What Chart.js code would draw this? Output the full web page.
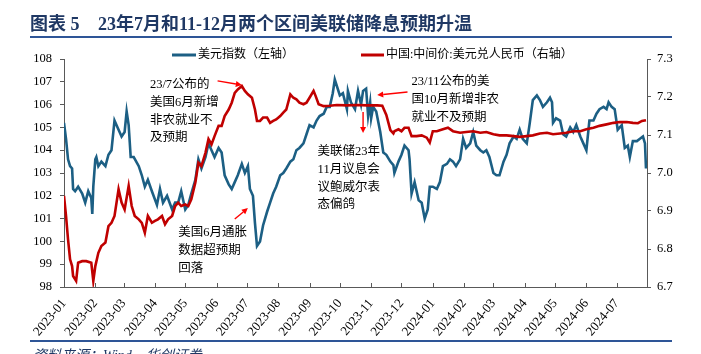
<!DOCTYPE html>
<html>
<head>
	<meta charset="UTF-8">
	<title>美元指数与人民币中间价</title>
	<script src="https://cdn.jsdelivr.net/npm/chart.js@4.4.1/dist/chart.umd.min.js"></script>
	<style>
		body { margin:0; padding:0; overflow:hidden; background:#fff; }
		canvas { display:block; }
	</style>
</head>
<body>
	<canvas id="chart" width="701" height="354"></canvas>
	<script>
		// x tick labels (month starts)
		const xLabels = ['2023-01','2023-02','2023-03','2023-04','2023-05','2023-06','2023-07','2023-08','2023-09','2023-10',
			'2023-11','2023-12','2024-01','2024-02','2024-03','2024-04','2024-05','2024-06','2024-07'];

		// 美元指数, days since 2023-01-01
		const dxyDays = [0,2,4,6,8,9,11,14,18,21,24,27,28,29,31,32,34,37,41,44,47,50,54,57,60,62,64,66,69,74,77,80,83,87,92,95,98,102,
			107,110,113,116,120,123,126,130,133,136,140,143,146,149,153,156,159,163,166,169,172,176,179,182,184,187,189,191,194,197,
			201,204,207,210,214,217,220,224,227,230,233,237,240,243,247,250,253,257,260,263,266,268,273,276,280,281,284,288,291,294,
			296,299,301,303,304,306,309,313,316,319,323,326,327,331,334,337,341,342,344,347,351,354,357,360,362,365,369,372,375,379,
			382,385,388,392,395,398,402,405,408,412,415,418,421,425,428,431,435,438,441,445,448,451,454,458,461,464,468,471,474,478,
			481,483,484,487,491,494,497,501,504,507,511,514,517,520,524,527,530,534,537,539,542,545,548,552,555,558,560,563,567,570,
			573,575,576];
		const dxyVals = [105.2,104.5,103.6,103.3,103.2,102.3,102.2,102.4,102.1,101.7,102.2,101.9,101.2,102.4,103.6,103.7,103.3,103.5,
			103.3,103.8,104.0,105.3,104.9,104.6,104.8,105.7,105.1,103.7,103.7,103.3,102.9,102.4,102.7,102.2,101.6,102.3,101.7,102.0,
			101.4,101.7,101.7,102.2,101.4,101.6,102.1,102.7,103.6,103.2,103.7,104.3,104.0,103.7,104.1,103.9,102.9,102.5,102.3,102.6,
			102.9,103.4,103.0,103.3,102.3,102.0,100.8,99.8,100.0,100.7,101.3,101.7,102.1,102.4,102.9,103.0,103.2,103.5,103.6,104.0,
			104.1,104.3,104.7,105.1,105.0,105.3,105.5,105.6,105.9,105.9,106.5,107.1,106.4,106.5,105.8,106.6,106.1,105.8,106.6,106.0,
			106.6,106.7,105.5,106.1,105.4,105.9,105.7,104.8,103.9,103.8,103.5,103.35,103.0,103.5,103.8,104.2,104.0,103.6,102.1,102.6,
			101.8,101.7,101.0,101.4,102.4,102.4,102.3,102.6,103.3,103.4,103.6,103.5,103.3,103.6,104.5,104.1,104.3,104.8,104.2,104.0,
			103.9,104.0,103.7,103.0,102.9,102.9,103.5,103.8,104.3,104.6,104.5,104.9,104.5,104.3,105.2,106.2,106.4,106.2,105.9,106.1,
			106.3,106.1,105.2,105.4,105.3,104.7,104.6,105.0,104.8,105.1,104.6,104.3,104.0,105.3,105.3,105.6,105.8,105.9,105.8,106.1,
			105.9,105.8,104.9,105.1,104.1,104.2,103.7,104.4,104.4,104.5,104.6,104.3,103.2];

		// 中国:中间价:美元兑人民币, days since 2023-01-01
		const cnyDays = [0,2,4,6,8,9,12,14,18,22,27,29,31,34,37,41,44,47,50,54,57,60,64,67,70,74,77,80,83,87,90,93,97,100,103,107,
			110,113,116,120,123,126,130,133,136,140,143,146,149,153,156,159,163,166,169,172,176,179,182,186,189,191,194,197,201,204,
			207,210,214,217,220,224,227,230,233,237,240,243,247,249,252,257,263,270,280,290,300,310,315,319,323,326,327,331,334,337,
			341,344,349,354,359,362,365,369,375,380,385,392,398,405,412,418,425,431,438,445,451,458,464,471,478,484,491,497,504,511,
			517,524,530,537,544,550,557,563,568,572,576];
		const cnyVals = [6.94,6.887,6.825,6.773,6.755,6.729,6.716,6.764,6.768,6.768,6.764,6.716,6.755,6.79,6.808,6.817,6.86,6.869,
			6.887,6.957,6.922,6.904,6.966,6.913,6.887,6.878,6.869,6.843,6.887,6.869,6.874,6.878,6.887,6.865,6.878,6.887,6.913,6.922,
			6.913,6.917,6.913,6.931,6.975,7.027,7.018,7.053,7.089,7.075,7.097,7.124,7.124,7.15,7.167,7.185,7.211,7.22,7.229,7.216,
			7.207,7.198,7.167,7.137,7.137,7.146,7.146,7.132,7.137,7.141,7.15,7.159,7.167,7.207,7.198,7.194,7.185,7.181,7.185,7.198,
			7.216,7.203,7.181,7.176,7.177,7.179,7.178,7.179,7.178,7.178,7.177,7.153,7.113,7.104,7.11,7.115,7.11,7.119,7.119,7.097,
			7.097,7.099,7.093,7.08,7.11,7.11,7.115,7.119,7.11,7.106,7.108,7.11,7.106,7.108,7.102,7.099,7.099,7.097,7.095,7.097,7.099,
			7.104,7.106,7.102,7.104,7.106,7.11,7.11,7.115,7.119,7.124,7.128,7.132,7.134,7.134,7.132,7.131,7.137,7.139];

		const BLUE = '#1c5f84';
		const RED = '#c00000';
		const serif = '"Liberation Serif", "Noto Sans CJK SC", serif';

		const monthDays = xLabels.map(s => {
			const [y, m] = s.split('-').map(Number);
			return (Date.UTC(y, m - 1, 1) - Date.UTC(2023, 0, 1)) / 86400000;
		});

		// annotations: text top-left and arrow in data units (day, left-axis value)
		const notes = [
			{ lines: ['23/7公布的', '美国6月新增', '非农就业不', '及预期'], at: [85, 106.86], arrow: [[152, 107.04], [176, 106.86]] },
			{ lines: ['美国6月通胀', '数据超预期', '回落'], at: [113, 100.37], arrow: [[169, 100.98], [182, 101.46]] },
			{ lines: ['美联储23年', '11月议息会', '议鲍威尔表', '态偏鸽'], at: [251, 103.92], arrow: [[296, 105.68], [296, 104.75]] },
			{ lines: ['23/11公布的美', '国10月新增非农', '就业不及预期'], at: [344, 106.99], arrow: [[340, 106.55], [310, 106.42]] }
		];

		function arrow(ctx, x1, y1, x2, y2) {
			const a = Math.atan2(y2 - y1, x2 - x1);
			const L = 6, W = 3;
			ctx.beginPath();
			ctx.moveTo(x1, y1);
			ctx.lineTo(x2 - L * Math.cos(a), y2 - L * Math.sin(a));
			ctx.stroke();
			ctx.beginPath();
			ctx.moveTo(x2, y2);
			ctx.lineTo(x2 - L * Math.cos(a) + W * Math.sin(a), y2 - L * Math.sin(a) - W * Math.cos(a));
			ctx.lineTo(x2 - L * Math.cos(a) - W * Math.sin(a), y2 - L * Math.sin(a) + W * Math.cos(a));
			ctx.closePath();
			ctx.fill();
		}

		const decor = {
			id: 'decor',
			beforeDraw(chart) {
				const ctx = chart.ctx;
				ctx.save();
				ctx.fillStyle = '#fff';
				ctx.fillRect(0, 0, chart.width, chart.height);
				ctx.restore();
			},
			afterDraw(chart) {
				const ctx = chart.ctx;
				const xs = chart.scales.x, ys = chart.scales.y;
				const area = chart.chartArea;
				ctx.save();

				// title
				ctx.fillStyle = '#1f3864';
				ctx.font = 'bold 18px ' + serif;
				ctx.textBaseline = 'middle';
				ctx.fillText('图表 5', 30, 25);
				ctx.fillText('23年7月和11-12月两个区间美联储降息预期升温', 98, 25);

				// rules
				ctx.strokeStyle = '#2e5597';
				ctx.lineWidth = 2;
				ctx.beginPath();
				ctx.moveTo(30, 37); ctx.lineTo(672, 37);
				ctx.moveTo(30, 341); ctx.lineTo(672, 341);
				ctx.stroke();

				// source
				ctx.font = 'italic 14px ' + serif;
				ctx.fillStyle = '#1f3864';
				ctx.fillText('资料来源：Wind，华创证券', 33, 356);

				// legend
				ctx.font = '12px ' + serif;
				ctx.fillStyle = '#000';
				ctx.lineWidth = 3;
				ctx.strokeStyle = BLUE;
				ctx.beginPath(); ctx.moveTo(172, 55); ctx.lineTo(196, 55); ctx.stroke();
				ctx.fillText(chart.data.datasets[1].label, 198, 55);
				ctx.strokeStyle = RED;
				ctx.beginPath(); ctx.moveTo(361, 55); ctx.lineTo(384, 55); ctx.stroke();
				ctx.fillText(chart.data.datasets[0].label, 386, 55);

				// inner ticks on x axis
				ctx.strokeStyle = '#595959';
				ctx.lineWidth = 1;
				ctx.beginPath();
				xs.ticks.forEach(t => {
					const px = Math.round(xs.getPixelForValue(t.value)) + 0.5;
					ctx.moveTo(px, area.bottom);
					ctx.lineTo(px, area.bottom - 4);
				});
				ctx.stroke();

				// annotations
				ctx.font = '12.5px ' + serif;
				ctx.strokeStyle = '#ff0000';
				ctx.lineWidth = 1.4;
				notes.forEach(n => {
					const tx = xs.getPixelForValue(n.at[0]);
					const ty = ys.getPixelForValue(n.at[1]);
					ctx.fillStyle = '#000';
					n.lines.forEach((s, i) => ctx.fillText(s, tx, ty + i * 17.7));
					ctx.fillStyle = '#ff0000';
					arrow(ctx,
						xs.getPixelForValue(n.arrow[0][0]), ys.getPixelForValue(n.arrow[0][1]),
						xs.getPixelForValue(n.arrow[1][0]), ys.getPixelForValue(n.arrow[1][1]));
				});
				ctx.restore();
			}
		};

		const ctx = document.getElementById('chart').getContext('2d');
		new Chart(ctx, {
			type: 'line',
			data: {
				datasets: [{
					label: '中国:中间价:美元兑人民币（右轴）',
					data: cnyDays.map((d, i) => ({ x: d, y: cnyVals[i] })),
					yAxisID: 'y1',
					borderColor: RED,
					borderWidth: 2.6,
					pointRadius: 0,
					tension: 0,
					fill: false
				}, {
					label: '美元指数（左轴）',
					data: dxyDays.map((d, i) => ({ x: d, y: dxyVals[i] })),
					yAxisID: 'y',
					borderColor: BLUE,
					borderWidth: 2.6,
					pointRadius: 0,
					tension: 0,
					fill: false
				}]
			},
			options: {
				responsive: false,
				animation: false,
				layout: { padding: { top: 59, left: 0, right: 0, bottom: 0 } },
				plugins: { legend: { display: false }, tooltip: { enabled: false } },
				scales: {
					x: {
						type: 'linear',
						min: 0,
						max: 577,
						afterBuildTicks: s => { s.ticks = monthDays.map(v => ({ value: v })); },
						afterFit: s => { s.height = 67; },
						ticks: {
							autoSkip: false,
							minRotation: 50,
							maxRotation: 50,
							padding: 9,
							color: '#000',
							font: { family: serif, size: 13 },
							callback: (v, i) => xLabels[i]
						},
						grid: { display: false, drawTicks: false },
						border: { display: true, color: '#595959', width: 1 }
					},
					y: {
						position: 'left',
						min: 98,
						max: 108,
						afterFit: s => { s.width = 64; },
						ticks: { stepSize: 1, padding: 8, color: '#000', font: { family: serif, size: 12.5 } },
						grid: { drawOnChartArea: false, drawTicks: true, tickLength: 4, color: '#595959' },
						border: { display: true, color: '#595959', width: 1 }
					},
					y1: {
						position: 'right',
						min: 6.7,
						max: 7.3,
						afterFit: s => { s.width = 54; },
						ticks: { stepSize: 0.1, padding: 6, color: '#000', font: { family: serif, size: 12.5 },
							callback: v => v.toFixed(1) },
						grid: { drawOnChartArea: false, drawTicks: true, tickLength: 4, color: '#595959' },
						border: { display: true, color: '#595959', width: 1 }
					}
				}
			},
			plugins: [decor]
		});
	</script>
</body>
</html>
